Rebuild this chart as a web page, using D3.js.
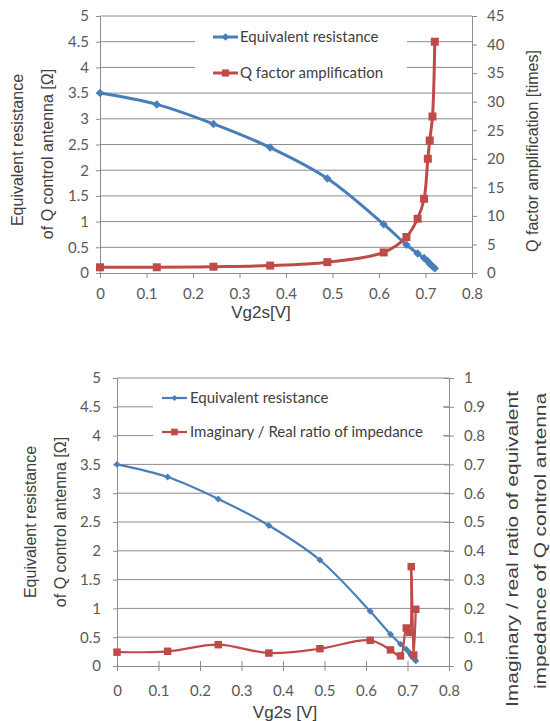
<!DOCTYPE html>
<html>
<head>
<meta charset="utf-8">
<script src="https://cdn.jsdelivr.net/npm/d3@7"></script>
<style>
body { margin: 0; background: #fff; }
</style>
</head>
<body>
<svg id="chart" width="550" height="721"></svg>
<script>
// gate voltage Vg2s [V] - same sweep for both charts
var vg2s = [0, 0.122, 0.244, 0.366, 0.489, 0.61, 0.659, 0.683, 0.697, 0.705, 0.709, 0.715, 0.72];
// equivalent resistance of Q control antenna [ohm]
var resistance = [3.5, 3.28, 2.9, 2.44, 1.84, 0.95, 0.55, 0.38, 0.29, 0.23, 0.18, 0.13, 0.09];
// Q factor amplification [times]
var qFactor = [1.0, 1.0, 1.1, 1.3, 1.9, 3.6, 6.3, 9.5, 13.0, 20.0, 23.2, 27.4, 40.5];
// imaginary / real ratio of impedance
var ratio = [0.048, 0.051, 0.074, 0.045, 0.06, 0.089, 0.056, 0.035, 0.132, 0.117, 0.345, 0.038, 0.197];

var xTicks = [0, 0.1, 0.2, 0.3, 0.4, 0.5, 0.6, 0.7, 0.8];
var resTicks = [0, 0.5, 1, 1.5, 2, 2.5, 3, 3.5, 4, 4.5, 5];
var qTicks = [0, 5, 10, 15, 20, 25, 30, 35, 40, 45];
var ratioTicks = [0, 0.1, 0.2, 0.3, 0.4, 0.5, 0.6, 0.7, 0.8, 0.9, 1];

var BLUE = '#4a7ebb', RED = '#be4b48';
var GRID = '#8c8c8c', TXT = '#595959', TITLE = '#404040';
var tickFont = 'Lato, "Open Sans", sans-serif';
var titleFont = '"Liberation Sans", Arial, sans-serif';

var svg = d3.select('#chart');

function styleAxis(sel) {
  sel.select('.domain').attr('stroke', GRID);
  sel.selectAll('.tick line').attr('stroke', GRID);
  sel.selectAll('.tick text').attr('fill', TXT)
    .style('font-family', tickFont).style('font-size', '15px');
}

function marker(sel, shape, size, color) {
  sel.attr('d', d3.symbol().type(d3.symbolSquare).size(size))
    .attr('fill', color);
  if (shape == 'diamond') {
    sel.attr('transform', function(d) { return d3.select(this).attr('transform') + ' rotate(45)'; });
  }
}

function drawChart(c) {
  var g = svg.append('g');
  var x = d3.scaleLinear().domain([0, 0.8]).range([c.left, c.right]);
  var yL = d3.scaleLinear().domain([0, 5]).range([c.bottom, c.top]);
  var yR = d3.scaleLinear().domain(c.rightDomain).range([c.bottom, c.top]);

  // horizontal gridlines from left axis
  g.append('g').selectAll('line').data(resTicks.slice(1)).enter().append('line')
    .attr('x1', c.left).attr('x2', c.right)
    .attr('y1', function(d) { return yL(d); })
    .attr('y2', function(d) { return yL(d); })
    .attr('stroke', GRID).attr('stroke-width', 1);

  // axes
  var xa = g.append('g').attr('transform', 'translate(0,' + c.bottom + ')')
    .call(d3.axisBottom(x).tickValues(xTicks).tickSizeOuter(0).tickSize(5).tickPadding(c.xPad).tickFormat(d3.format('')));
  styleAxis(xa);
  var la = g.append('g').attr('transform', 'translate(' + c.left + ',0)')
    .call(d3.axisLeft(yL).tickValues(resTicks).tickSizeOuter(0).tickSize(4).tickPadding(c.lPad).tickFormat(d3.format('')));
  styleAxis(la);
  var ra = g.append('g').attr('transform', 'translate(' + c.right + ',0)')
    .call(d3.axisRight(yR).tickValues(c.rightTicks).tickSizeOuter(0).tickSize(5).tickPadding(c.rPad).tickFormat(d3.format('')));
  styleAxis(ra);
  if (c.crossTicks) {
    xa.selectAll('.tick line').attr('y1', -5);
    la.selectAll('.tick line').attr('x1', 0);
    ra.selectAll('.tick line').attr('x1', -5);
  }

  // series
  var line = function(ys, scale) {
    return d3.line().curve(d3.curveCatmullRom.alpha(0.5))
      .x(function(d, i) { return x(vg2s[i]); })
      .y(function(d) { return scale(d); })(ys);
  };
  g.append('path').attr('d', line(resistance, yL))
    .attr('fill', 'none').attr('stroke', BLUE).attr('stroke-width', c.lineW);
  g.append('g').selectAll('path').data(resistance).enter().append('path')
    .attr('transform', function(d, i) { return 'translate(' + x(vg2s[i]) + ',' + yL(d) + ')'; })
    .call(marker, 'diamond', c.diamondSize, BLUE);

  g.append('path').attr('d', line(c.rightSeries, yR))
    .attr('fill', 'none').attr('stroke', RED).attr('stroke-width', c.lineW);
  g.append('g').selectAll('path').data(c.rightSeries).enter().append('path')
    .attr('transform', function(d, i) { return 'translate(' + x(vg2s[i]) + ',' + yR(d) + ')'; })
    .call(marker, 'square', c.squareSize, RED);

  // legend
  var lg = g.append('g');
  lg.append('rect').attr('x', c.legend.x).attr('y', c.legend.y)
    .attr('width', c.legend.w).attr('height', c.legend.h).attr('fill', '#fff');
  var entries = [
    {name: 'Equivalent resistance', color: BLUE, shape: 'diamond', size: c.diamondSize},
    {name: c.rightName, color: RED, shape: 'square', size: c.squareSize}
  ];
  entries.forEach(function(e, i) {
    var ly = c.legend.rowY[i];
    lg.append('line').attr('x1', c.legend.lx).attr('x2', c.legend.lx + 25)
      .attr('y1', ly).attr('y2', ly).attr('stroke', e.color).attr('stroke-width', c.lineW);
    lg.append('path').attr('transform', 'translate(' + (c.legend.lx + 12.5) + ',' + ly + ')')
      .call(marker, e.shape, e.size * 0.8, e.color);
    lg.append('text').attr('x', c.legend.tx).attr('y', ly).attr('dy', '0.35em')
      .attr('fill', TITLE).style('font-family', tickFont).style('font-size', '15px')
      .text(e.name);
  });

  // axis titles
  g.append('text').attr('x', c.xTitle.x).attr('y', c.xTitle.y).attr('text-anchor', 'middle')
    .attr('fill', TITLE).style('font-family', titleFont).style('font-size', '17px')
    .text(c.xTitle.text);
  c.leftTitle.forEach(function(t) {
    g.append('text').attr('transform', 'translate(' + t.x + ',' + t.y + ') rotate(-90)')
      .attr('text-anchor', 'middle').attr('dy', '0.35em')
      .attr('fill', TITLE).style('font-family', titleFont).style('font-size', '16px')
      .text(t.text);
  });
  c.rightTitle.forEach(function(t) {
    var tt = g.append('text').attr('transform', 'translate(' + t.x + ',' + t.y + ') rotate(-90)')
      .attr('text-anchor', 'middle').attr('dy', '0.35em')
      .attr('fill', TITLE).style('font-family', titleFont).style('font-size', '16px')
      .text(t.text);
    if (t.len) tt.attr('textLength', t.len).attr('lengthAdjust', 'spacingAndGlyphs');
  });
}

drawChart({
  left: 100, right: 472, top: 16, bottom: 273,
  rightDomain: [0, 45], rightTicks: qTicks, rightSeries: qFactor,
  rightName: 'Q factor amplification',
  xPad: 10, lPad: 7, rPad: 10,
  lineW: 3, diamondSize: 36, squareSize: 64, crossTicks: false,
  legend: {x: 195, y: 24, w: 212, h: 62, rowY: [37, 73], lx: 213, tx: 240},
  xTitle: {x: 261, y: 318, text: 'Vg2s[V]'},
  leftTitle: [{x: 17, y: 150, text: 'Equivalent resistance'},
              {x: 47, y: 154, text: 'of Q control antenna [\u03a9]'}],
  rightTitle: [{x: 532, y: 151, text: 'Q factor amplification [times]'}]
});

drawChart({
  left: 117, right: 449, top: 378, bottom: 666,
  rightDomain: [0, 1], rightTicks: ratioTicks, rightSeries: ratio,
  rightName: 'Imaginary / Real ratio of impedance',
  xPad: 14, lPad: 12, rPad: 10,
  lineW: 2.2, diamondSize: 24, squareSize: 56, crossTicks: true,
  legend: {x: 153, y: 385, w: 290, h: 60, rowY: [398, 432], lx: 162, tx: 190},
  xTitle: {x: 285, y: 718, text: 'Vg2s [V]'},
  leftTitle: [{x: 30, y: 522, text: 'Equivalent resistance'},
              {x: 60, y: 522, text: 'of Q control antenna [\u03a9]'}],
  rightTitle: [{x: 512, y: 549, text: 'Imaginary / real ratio of equivalent', len: 316},
               {x: 540, y: 541, text: 'impedance of Q control antenna', len: 296}]
});
</script>
</body>
</html>
